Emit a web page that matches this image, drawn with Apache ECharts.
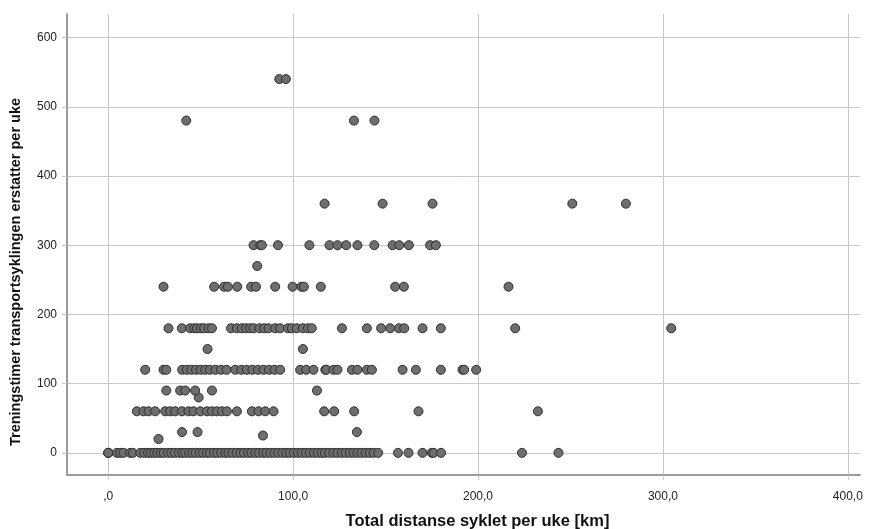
<!DOCTYPE html>
<html>
<head>
<meta charset="utf-8">
<script src="https://cdn.jsdelivr.net/npm/echarts@6/dist/echarts.min.js"></script>
<style>
    html, body { margin: 0; padding: 0; background: #fff; }
    #chart { width: 873px; height: 529px; }
</style>
</head>
<body>
<div id="chart"></div>
<script>
// km per uke for hver verdi av treningstimer (lest av bildet)
var km_0 = [0, 0, 0, 4.7, 6.5, 8.3, 11.9, 13.3, 17.3, 19.5, 21.5, 23, 24.8, 26.5, 28.4, 30, 32.3, 34.1, 36,
    38.2, 40, 41.6, 43.7, 45.5, 47.3, 49.4, 51.2, 53.3, 55, 57.2, 59, 61.1, 63.3, 65, 67.2, 69.4, 71.5, 73.4,
    75.6, 77.4, 79.6, 81.5, 83.8, 85.6, 87.7, 89.8, 92, 94.2, 96.3, 98.2, 100.4, 102.5, 104.6, 106.8, 109,
    111.2, 113.3, 115.4, 117.2, 119.5, 121.8, 124, 126.3, 128.4, 130.6, 132.7, 134.8, 137, 139.2, 141.4,
    143.5, 146, 156.7, 162.4, 170, 175, 176, 180, 223.8, 243.5];
var km_20 = [27.2];
var km_25 = [83.7];
var km_30 = [39.9, 48.3, 134.5];
var km_60 = [15.5, 19.1, 21.8, 25.4, 30.8, 33.5, 36.2, 39.9, 43.4, 46.1, 49.8, 53.4, 56.1, 58.8, 61.5, 64.2,
    69.6, 77.7, 81.3, 84.9, 89.4, 116.8, 122.2, 133, 167.8, 232.4];
var km_80 = [48.9];
var km_90 = [31.4, 38.9, 41.6, 47, 56.1, 112.9];
var km_120 = [20, 29.9, 31.4, 40, 42.5, 45, 47.5, 50, 52.5, 55, 58, 61, 64, 68.7, 72, 75, 78, 81, 84, 87, 90,
    93, 103.8, 107.1, 111, 117.4, 118, 121.8, 124, 131.8, 134.8, 139.9, 142.6, 159.2, 166.4, 179.9, 191.6,
    192.5, 199];
var km_150 = [53.7, 105.3];
var km_180 = [32.6, 39.8, 44.3, 46.5, 47.9, 50.1, 51.9, 54.3, 56.1, 66.4, 69.6, 72.3, 74.6, 76.8, 78.6, 81.8,
    84.4, 86.7, 90.3, 93, 97.2, 99.3, 102, 105.3, 108, 110.1, 126.4, 139.9, 147.6, 152.5, 157.2, 160.1, 170,
    179.9, 220.1, 304.5];
var km_240 = [29.9, 57.3, 62.7, 64.7, 69.8, 77.3, 79.9, 90.3, 99.7, 104.5, 105.8, 115, 155.2, 159.9, 216.5];
var km_270 = [80.6];
var km_300 = [78.6, 82.2, 83.1, 91.8, 108.8, 119.7, 124, 128.7, 134.8, 143.9, 153.8, 157.4, 162.6, 174.1, 177.2];
var km_360 = [117, 148.4, 175.4, 251, 280];
var km_480 = [42.2, 132.9, 144];
var km_540 = [92.5, 96.1];

var levels = [
    [0, km_0], [20, km_20], [25, km_25], [30, km_30], [60, km_60], [80, km_80], [90, km_90],
    [120, km_120], [150, km_150], [180, km_180], [240, km_240], [270, km_270], [300, km_300],
    [360, km_360], [480, km_480], [540, km_540]
];

(function () {
    var myChart = echarts.init(document.getElementById("chart"));

    var points = [];
    levels.forEach(function (lv) {
        lv[1].forEach(function (km) {
            points.push([km, lv[0]]);
        });
    });

    var gridColor = "#c8c8c8";
    var font = "Liberation Sans, Arial, sans-serif";

    var option = {
        animation: false,
        grid: {
            left: 67,
            right: 13,
            top: 14,
            bottom: 54,
            outerBoundsMode: "none"
        },
        xAxis: {
            type: "value",
            min: -22.3,
            max: 406.6,
            name: "Total distanse syklet per uke [km]",
            nameLocation: "middle",
            nameGap: 38,
            nameTextStyle: {
                fontFamily: font,
                fontSize: 16.5,
                fontWeight: "bold",
                color: "#111",
                padding: [0, 0, 0, 28]
            },
            axisLine: {
                show: true,
                onZero: false,
                lineStyle: { color: "#9a9a9a", width: 2 }
            },
            axisTick: {
                show: true,
                length: 5,
                lineStyle: { color: gridColor }
            },
            axisLabel: {
                showMinLabel: false,
                showMaxLabel: false,
                margin: 16,
                fontFamily: font,
                fontSize: 12,
                color: "#222",
                formatter: function (v) {
                    if (v === 0) return ",0";
                    return v.toFixed(1).replace(".", ",");
                }
            },
            splitLine: {
                show: true,
                showMinLine: false,
                showMaxLine: false,
                lineStyle: { color: gridColor, width: 1 }
            }
        },
        yAxis: {
            type: "value",
            min: -32,
            max: 634,
            name: "Treningstimer transportsyklingen erstatter per uke",
            nameLocation: "middle",
            nameGap: 44,
            nameTextStyle: {
                fontFamily: font,
                fontSize: 14.5,
                fontWeight: "bold",
                color: "#111",
                padding: [0, 55, 0, 0]
            },
            axisLine: {
                show: true,
                onZero: false,
                lineStyle: { color: "#9a9a9a", width: 2 }
            },
            axisTick: {
                show: true,
                length: 5,
                lineStyle: { color: gridColor }
            },
            axisLabel: {
                showMinLabel: false,
                showMaxLabel: false,
                margin: 10,
                fontFamily: font,
                fontSize: 12,
                color: "#222"
            },
            splitLine: {
                show: true,
                showMinLine: false,
                showMaxLine: false,
                lineStyle: { color: gridColor, width: 1 }
            }
        },
        series: [{
            type: "scatter",
            symbol: "circle",
            symbolSize: 9,
            itemStyle: {
                color: "#6e6e6e",
                borderColor: "#2e2e2e",
                borderWidth: 1,
                opacity: 1
            },
            data: points
        }]
    };

    myChart.setOption(option);
})();
</script>
</body>
</html>
